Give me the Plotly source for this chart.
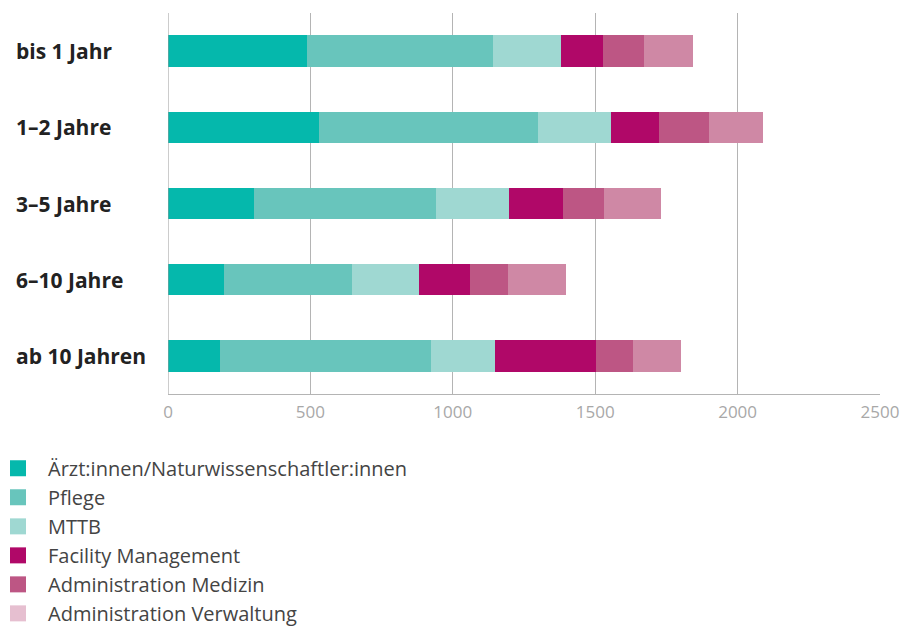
import plotly.graph_objects as go

categories = ["bis 1 Jahr", "1–2 Jahre", "3–5 Jahre", "6–10 Jahre", "ab 10 Jahren"]
series_names = ["Ärzt:innen/Naturwissenschaftler:innen", "Pflege", "MTTB",
                "Facility Management", "Administration Medizin", "Administration Verwaltung"]
aerzte = [489, 531, 303, 197, 183]
pflege = [653, 769, 639, 450, 740]
mttb = [239, 257, 257, 235, 225]
facility = [147, 168, 189, 179, 356]
admin_med = [142, 175, 144, 133, 129]
admin_verw = [175, 190, 200, 204, 170]
x_ticks = [0, 500, 1000, 1500, 2000, 2500]

series_values = [aerzte, pflege, mttb, facility, admin_med, admin_verw]
bar_colors = ["#05b8ac", "#68c5bc", "#9fd8d2", "#b00868", "#bd5684", "#cf88a5"]
legend_colors = ["#05b8ac", "#68c5bc", "#9fd8d2", "#b00868", "#bd5684", "#e6bfd0"]

fig = go.Figure()
for name, vals, col in zip(series_names, series_values, bar_colors):
    fig.add_trace(go.Bar(y=categories, x=vals, orientation="h", name=name,
                         marker=dict(color=col, line=dict(width=0)),
                         showlegend=False, hoverinfo="skip"))

for i, (name, col) in enumerate(zip(series_names, legend_colors)):
    fig.add_trace(go.Scatter(x=[None], y=[None], mode="markers", name=name,
                             marker=dict(symbol="square", size=16, color=col),
                             showlegend=True))

for cat in categories:
    fig.add_annotation(x=-0.216, xref="paper", y=cat, yref="y", text=f"<b>{cat}</b>",
                       showarrow=False, xanchor="left",
                       font=dict(family="Open Sans", size=21, color="#222222"))

fig.update_layout(
    width=902, height=628,
    margin=dict(l=168, r=22, t=13, b=234, autoexpand=False),
    barmode="stack", bargap=0.59,
    plot_bgcolor="white", paper_bgcolor="white",
    font=dict(family="Open Sans", color="#444444"),
    xaxis=dict(range=[0, 2500], tickvals=x_ticks, showgrid=True, gridcolor="#b4b4b4",
               gridwidth=1, zeroline=False, showline=True, linecolor="#b4b4b4",
               tickfont=dict(size=17, color="#a8a8a8"), ticks="", ticklabelstandoff=3,
               ticklabeloverflow="allow", fixedrange=True),
    yaxis=dict(autorange="reversed", showticklabels=False, showgrid=False, zeroline=False,
               showline=False, ticks=""),
    legend=dict(orientation="v", x=-0.2528, xanchor="left", y=-0.144, yanchor="top",
                traceorder="normal", itemwidth=50,
                font=dict(family="Open Sans", size=20, color="#444444"),
                bgcolor="rgba(0,0,0,0)"),
    showlegend=True,
)
fig.add_shape(type="line", xref="x", yref="paper", x0=0, x1=0, y0=0, y1=1,
              line=dict(color="#9a9a9a", width=1))

fig.write_html("out.html", config={"displayModeBar": False},
               post_script="document.body.style.margin='0';document.body.style.overflow='hidden';")
